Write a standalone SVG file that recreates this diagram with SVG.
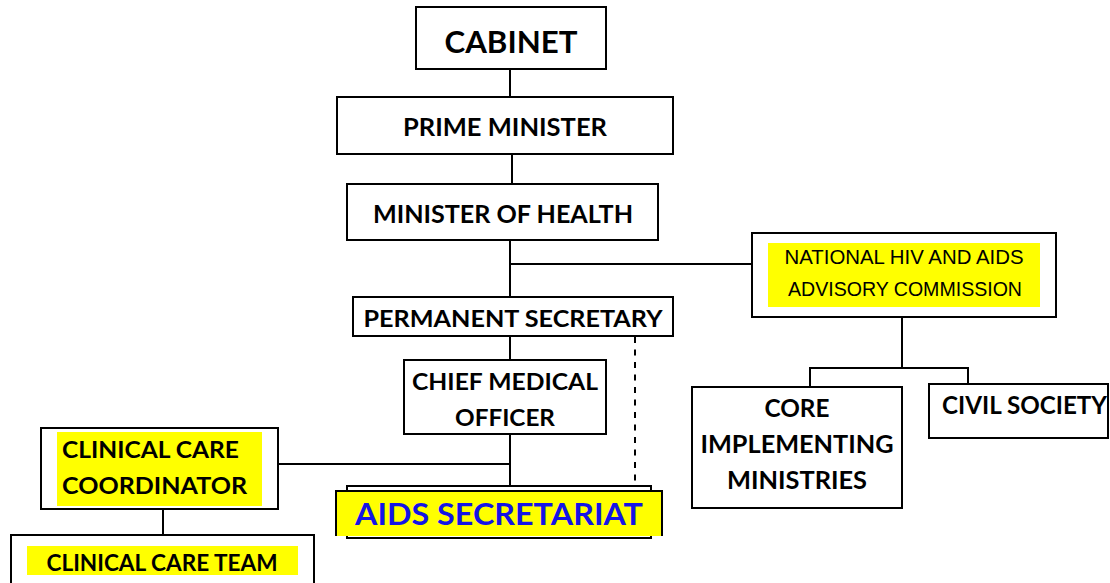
<svg xmlns="http://www.w3.org/2000/svg" width="1110" height="583" viewBox="0 0 1110 583">
<style>
.box{fill:#fff;stroke:#000;stroke-width:2}
.hl{fill:#ffff00;stroke:none}
.t{font-family:Lato,"Open Sans","Liberation Sans",sans-serif;font-weight:bold;fill:#000}
.n{font-family:"Liberation Sans Narrow","Liberation Sans",sans-serif;fill:#000}
.ln{stroke:#000;stroke-width:2;fill:none}
.ds{stroke:#000;stroke-width:2;fill:none;stroke-dasharray:6 6.5}
</style>
<rect width="1110" height="583" fill="#fff"/>
<g id="connectors">
<line class="ln" x1="510" y1="69" x2="510" y2="97"/>
<line class="ln" x1="512" y1="154" x2="512" y2="184"/>
<line class="ln" x1="510" y1="240" x2="510" y2="297"/>
<line class="ln" x1="510" y1="264" x2="752" y2="264"/>
<line class="ln" x1="510" y1="336" x2="510" y2="360"/>
<line class="ln" x1="510" y1="434" x2="510" y2="487"/>
<line class="ln" x1="278" y1="464" x2="510" y2="464"/>
<line class="ln" x1="163" y1="509" x2="163" y2="535"/>
<line class="ds" x1="635" y1="337" x2="635" y2="486"/>
<line class="ln" x1="902" y1="317" x2="902" y2="368"/>
<polyline class="ln" points="810,387 810,368 968,368 968,384"/>
</g>
<g id="cabinet">
<rect class="box" x="416" y="7" width="190" height="62"/>
<text class="t" x="511" y="53" font-size="30" text-anchor="middle" textLength="133" lengthAdjust="spacingAndGlyphs">CABINET</text>
</g>
<g id="prime-minister">
<rect class="box" x="337" y="97" width="336" height="57"/>
<text class="t" x="505" y="136" font-size="24" text-anchor="middle" textLength="204" lengthAdjust="spacingAndGlyphs">PRIME MINISTER</text>
</g>
<g id="minister-of-health">
<rect class="box" x="347" y="184" width="311" height="56"/>
<text class="t" x="503" y="223" font-size="24" text-anchor="middle" textLength="260" lengthAdjust="spacingAndGlyphs">MINISTER OF HEALTH</text>
</g>
<g id="national-commission">
<rect class="box" x="752" y="233" width="304" height="84"/>
<rect class="hl" x="768" y="243" width="272" height="64"/>
<text class="n" x="904" y="264" font-size="21" text-anchor="middle" textLength="239" lengthAdjust="spacingAndGlyphs">NATIONAL HIV AND AIDS</text>
<text class="n" x="905" y="296" font-size="21" text-anchor="middle" textLength="234" lengthAdjust="spacingAndGlyphs">ADVISORY COMMISSION</text>
</g>
<g id="permanent-secretary">
<rect class="box" x="353" y="297" width="320" height="39"/>
<text class="t" x="513" y="327" font-size="23" text-anchor="middle" textLength="299" lengthAdjust="spacingAndGlyphs">PERMANENT SECRETARY</text>
</g>
<g id="chief-medical-officer">
<rect class="box" x="404" y="360" width="202" height="74"/>
<text class="t" x="505" y="390" font-size="23" text-anchor="middle" textLength="186" lengthAdjust="spacingAndGlyphs">CHIEF MEDICAL</text>
<text class="t" x="505" y="426" font-size="23" text-anchor="middle" textLength="100" lengthAdjust="spacingAndGlyphs">OFFICER</text>
</g>
<g id="core-implementing-ministries">
<rect class="box" x="692" y="387" width="210" height="121"/>
<text class="t" x="797" y="417" font-size="25" text-anchor="middle" textLength="65" lengthAdjust="spacingAndGlyphs">CORE</text>
<text class="t" x="797" y="453" font-size="25" text-anchor="middle" textLength="193" lengthAdjust="spacingAndGlyphs">IMPLEMENTING</text>
<text class="t" x="797" y="489" font-size="25" text-anchor="middle" textLength="140" lengthAdjust="spacingAndGlyphs">MINISTRIES</text>
</g>
<g id="civil-society">
<rect class="box" x="929" y="384" width="179" height="54"/>
<text class="t" x="942" y="414" font-size="24" textLength="165" lengthAdjust="spacingAndGlyphs">CIVIL SOCIETY</text>
</g>
<g id="clinical-care-coordinator">
<rect class="box" x="41" y="428" width="237" height="81"/>
<rect class="hl" x="57" y="432" width="205" height="74"/>
<text class="t" x="62" y="458" font-size="23" textLength="177" lengthAdjust="spacingAndGlyphs">CLINICAL CARE</text>
<text class="t" x="62" y="494" font-size="23" textLength="185" lengthAdjust="spacingAndGlyphs">COORDINATOR</text>
</g>
<g id="aids-secretariat">
<rect class="box" x="347" y="486" width="304" height="52"/>
<rect class="hl" x="336" y="491" width="326" height="45"/>
<path class="ln" d="M336,536 V491 H662 V536" stroke-width="2.5"/>
<text class="t" x="499" y="525" font-size="30" text-anchor="middle" style="fill:#1414e6" textLength="288" lengthAdjust="spacingAndGlyphs">AIDS SECRETARIAT</text>
</g>
<g id="clinical-care-team">
<rect class="box" x="11" y="535" width="303" height="60"/>
<rect class="hl" x="27" y="546" width="271" height="29"/>
<text class="t" x="162" y="571" font-size="22" text-anchor="middle" textLength="231" lengthAdjust="spacingAndGlyphs">CLINICAL CARE TEAM</text>
</g>
</svg>
